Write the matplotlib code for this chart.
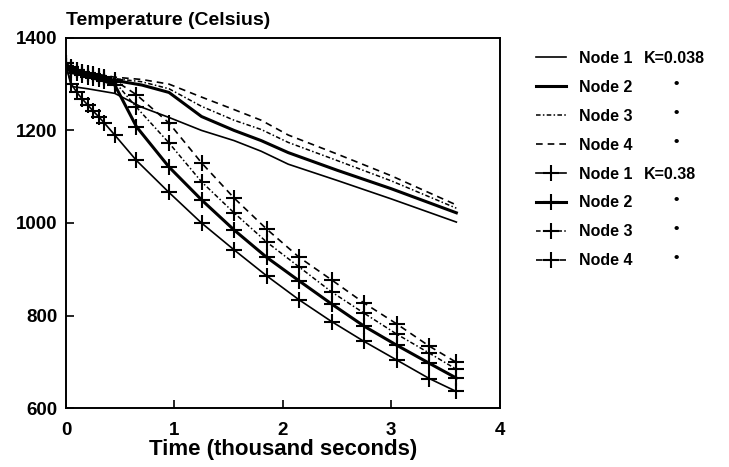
import matplotlib
matplotlib.use('Agg')
import matplotlib.pyplot as plt

plt.rcParams['font.family'] = ['Liberation Sans', 'DejaVu Sans']
plt.rcParams['font.weight'] = 'bold'

# K=0.038 runs (no markers)
t_slow = [0, 0.05, 0.2, 0.45, 0.7, 0.95, 1.25, 1.55, 1.8, 2.05, 2.5, 3.0, 3.6]
slow_n1 = [1340, 1295, 1290, 1280, 1250, 1228, 1200, 1178, 1155, 1127, 1092, 1052, 1002]
slow_n2 = [1340, 1325, 1318, 1308, 1298, 1282, 1230, 1200, 1178, 1152, 1114, 1074, 1022]
slow_n3 = [1340, 1328, 1322, 1312, 1305, 1290, 1252, 1222, 1202, 1174, 1135, 1091, 1032]
slow_n4 = [1340, 1330, 1325, 1315, 1310, 1300, 1272, 1245, 1222, 1190, 1149, 1102, 1039]

# K=0.38 runs (with + markers)
t_fast = [0, 0.05, 0.1, 0.15, 0.2, 0.25, 0.3, 0.35, 0.45, 0.65, 0.95, 1.25,
          1.55, 1.85, 2.15, 2.45, 2.75, 3.05, 3.35, 3.6]
fast_n1 = [1340, 1300, 1282, 1268, 1255, 1242, 1230, 1217, 1190, 1135, 1066, 1000,
           942, 886, 834, 787, 744, 704, 664, 636]
fast_n2 = [1340, 1330, 1325, 1320, 1316, 1313, 1310, 1307, 1298, 1208, 1121, 1050,
           985, 926, 875, 825, 777, 736, 697, 665]
fast_n3 = [1345, 1335, 1330, 1326, 1322, 1319, 1316, 1313, 1305, 1250, 1173, 1089,
           1022, 959, 905, 851, 805, 760, 719, 684]
fast_n4 = [1345, 1336, 1331, 1327, 1324, 1321, 1318, 1315, 1308, 1277, 1216, 1130,
           1054, 987, 926, 877, 827, 782, 734, 699]

labels = ['Node 1', 'Node 2', 'Node 3', 'Node 4']
k_labels = ['K=0.038', '•', '•', '•', 'K=0.38', '•', '•', '•']

fig = plt.figure(figsize=(7.29, 4.67), dpi=100)
ax = fig.add_axes([0.0905, 0.126, 0.595, 0.793])

styles = [dict(ls='-', lw=1.2), dict(ls='-', lw=2.2),
          dict(ls=(0, (3, 1.5, 1, 1.5)), lw=1.1), dict(ls=(0, (4, 3)), lw=1.2)]

handles = []
for y, lab, st in zip([slow_n1, slow_n2, slow_n3, slow_n4], labels, styles):
    h, = ax.plot(t_slow, y, color='black', label=lab, **st)
    handles.append(h)
for y, lab, st in zip([fast_n1, fast_n2, fast_n3, fast_n4], labels, styles):
    h, = ax.plot(t_fast, y, color='black', marker='+', ms=11, mew=1.5,
                 label=lab, **st)
    handles.append(h)

ax.set_xlim(0, 4)
ax.set_ylim(600, 1400)
ax.set_xticks([0, 1, 2, 3, 4])
ax.set_yticks([600, 800, 1000, 1200, 1400])
ax.tick_params(direction='in', length=6, width=1.2, labelsize=13.5)
ax.tick_params(axis='x', pad=10)
ax.tick_params(axis='y', pad=6)
for s in ax.spines.values():
    s.set_linewidth(1.4)
ax.set_xlabel('Time (thousand seconds)', fontsize=16, fontweight='bold', labelpad=0)
ax.text(0, 1.025, 'Temperature (Celsius)', transform=ax.transAxes,
        fontsize=14, fontweight='bold', ha='left', va='bottom')

leg = fig.legend(handles, [h.get_label() for h in handles], loc='upper left',
                 bbox_to_anchor=(528 / 729, 1 - 43 / 467), frameon=False,
                 prop={'size': 11.5, 'weight': 'bold'}, handlelength=1.9,
                 handletextpad=0.8, labelspacing=0.87, borderpad=0)

# K values next to the legend rows
fig.canvas.draw()
r = fig.canvas.get_renderer()
for txt, k in zip(leg.get_texts(), k_labels):
    bb = txt.get_window_extent(r)
    yc = (bb.y0 + bb.y1) / 2 / fig.bbox.height
    if k.startswith('K'):
        fig.text(644 / 729, yc, k, fontsize=11.5, fontweight='bold', va='center')
    else:
        fig.text(676 / 729, yc + 3 / 467, k, fontsize=11, fontweight='bold',
                 va='center', ha='center')

fig.savefig('out.png', dpi=100)
